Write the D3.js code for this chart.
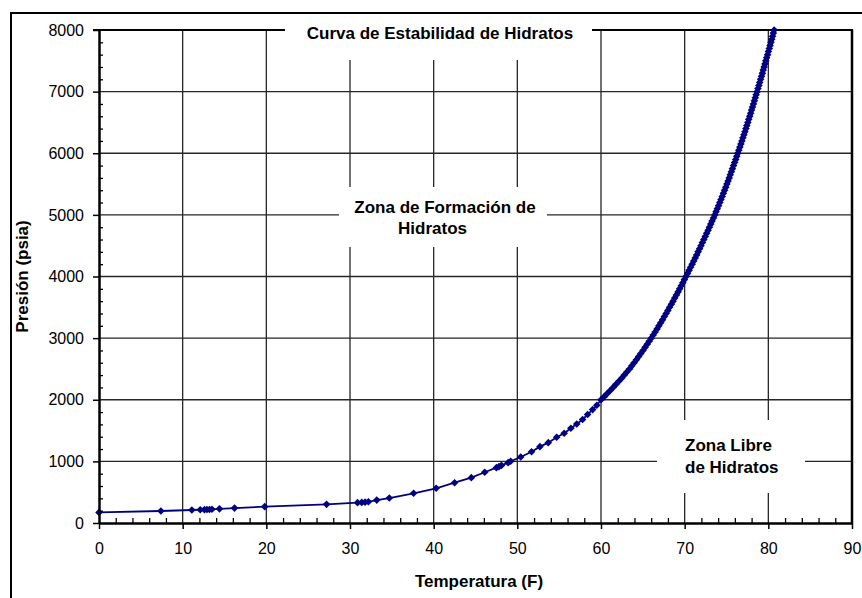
<!DOCTYPE html>
<html>
<head>
<meta charset="utf-8">
<script src="https://cdn.jsdelivr.net/npm/d3@7"></script>
<style>
  body { margin: 0; background: #fff; }
  svg { display: block; }
  text { font-family: "Liberation Sans", Arial, sans-serif; fill: #000; }
</style>
</head>
<body>
<svg id="chart" width="862" height="598"></svg>
<script>
// Hydrate stability curve: temperature (F) vs pressure (psia)
const temperatures = [
  0, 7.4, 11.1, 12.1, 12.6, 12.9, 13.2, 13.5, 14.4, 16.2, 19.8, 27.2, 30.9, 31.4, 31.8, 32.2,
  33.2, 34.7, 37.6, 40.3, 42.5, 44.5, 46.1, 47.5, 47.8, 48.1, 48.9, 49.2, 50.4, 51.7, 52.7,
  53.7, 54.7, 55.6, 56.4, 57.1, 57.8, 58.4, 59.0, 59.5, 60.0,
  60.38, 60.74, 61.10, 61.45, 61.79, 62.13, 62.46, 62.78, 63.09, 63.40,
  63.68, 63.96, 64.23, 64.50, 64.76, 65.02, 65.27, 65.52, 65.76, 66.00,
  66.24, 66.47, 66.70, 66.92, 67.14, 67.36, 67.57, 67.79, 67.99, 68.20,
  68.41, 68.61, 68.81, 69.01, 69.21, 69.40, 69.59, 69.78, 69.97, 70.15,
  70.34, 70.53, 70.71, 70.90, 71.08, 71.26, 71.43, 71.61, 71.78, 71.95,
  72.12, 72.29, 72.46, 72.63, 72.80, 72.96, 73.12, 73.28, 73.44, 73.60,
  73.75, 73.90, 74.05, 74.20, 74.34, 74.49, 74.63, 74.77, 74.91, 75.05,
  75.19, 75.32, 75.45, 75.58, 75.71, 75.84, 75.97, 76.10, 76.23, 76.35,
  76.47, 76.60, 76.72, 76.84, 76.96, 77.08, 77.20, 77.32, 77.43, 77.55,
  77.66, 77.78, 77.89, 78.00, 78.11, 78.22, 78.33, 78.44, 78.54, 78.65,
  78.76, 78.87, 78.97, 79.08, 79.19, 79.29, 79.39, 79.50, 79.60, 79.70,
  79.80, 79.91, 80.01, 80.11, 80.21, 80.31, 80.41, 80.51, 80.60, 80.70
];
const pressures = [
  172, 195, 211, 215, 217, 219, 220, 222, 230, 242, 265, 303, 330, 334, 338, 344,
  372, 405, 482, 563, 654, 736, 823, 898, 914, 935, 979, 1001, 1071, 1157, 1239,
  1304, 1391, 1456, 1537, 1607, 1680, 1760, 1840, 1910, 2000,
  2050, 2100, 2150, 2200, 2250, 2300, 2350, 2400, 2450, 2500,
  2550, 2600, 2650, 2700, 2750, 2800, 2850, 2900, 2950, 3000,
  3050, 3100, 3150, 3200, 3250, 3300, 3350, 3400, 3450, 3500,
  3550, 3600, 3650, 3700, 3750, 3800, 3850, 3900, 3950, 4000,
  4050, 4100, 4150, 4200, 4250, 4300, 4350, 4400, 4450, 4500,
  4550, 4600, 4650, 4700, 4750, 4800, 4850, 4900, 4950, 5000,
  5050, 5100, 5150, 5200, 5250, 5300, 5350, 5400, 5450, 5500,
  5550, 5600, 5650, 5700, 5750, 5800, 5850, 5900, 5950, 6000,
  6050, 6100, 6150, 6200, 6250, 6300, 6350, 6400, 6450, 6500,
  6550, 6600, 6650, 6700, 6750, 6800, 6850, 6900, 6950, 7000,
  7050, 7100, 7150, 7200, 7250, 7300, 7350, 7400, 7450, 7500,
  7550, 7600, 7650, 7700, 7750, 7800, 7850, 7900, 7950, 8000
];
const xTicks = [0, 10, 20, 30, 40, 50, 60, 70, 80, 90];
const yTicks = [0, 1000, 2000, 3000, 4000, 5000, 6000, 7000, 8000];
const xMinorTicks = d3.range(0, 91, 2).filter(v => v % 10 !== 0);
const yMinorTicks = d3.range(0, 8001, 200).filter(v => v % 1000 !== 0);
const chartTitle = "Curva de Estabilidad de Hidratos";
const xTitle = "Temperatura (F)";
const yTitle = "Presión (psia)";
const formationZone = ["Zona de Formación de", "Hidratos"];
const freeZone = ["Zona Libre", "de Hidratos"];

const W = 862, H = 598;
const margin = { top: 30, right: 10, bottom: 75, left: 99 };
const x = d3.scaleLinear().domain([0, 90]).range([margin.left, W - margin.right]);
const y = d3.scaleLinear().domain([0, 8000]).range([H - margin.bottom, margin.top]);

const svg = d3.select("#chart");
const points = temperatures.map((t, i) => ({ t, p: pressures[i] }));

// outer chart frame (runs past the right and bottom edges)
svg.append("rect")
  .attr("x", 11).attr("y", 13)
  .attr("width", 900).attr("height", 700)
  .attr("fill", "none").attr("stroke", "#000").attr("stroke-width", 2);

// grid
const grid = svg.append("g").attr("stroke", "#262626").attr("stroke-width", 1.3);
grid.selectAll("line.v").data(xTicks.filter(v => v > 0 && v < 90)).join("line")
  .attr("x1", d => x(d)).attr("x2", d => x(d))
  .attr("y1", y(8000)).attr("y2", y(0));
grid.selectAll("line.h").data(yTicks.filter(v => v > 0 && v < 8000)).join("line")
  .attr("x1", x(0)).attr("x2", x(90))
  .attr("y1", d => y(d)).attr("y2", d => y(d));

// plot frame: top and right
svg.append("line")
  .attr("x1", x(0) - 6).attr("x2", x(90) + 1)
  .attr("y1", y(8000)).attr("y2", y(8000))
  .attr("stroke", "#000").attr("stroke-width", 2);
svg.append("line")
  .attr("x1", x(90)).attr("x2", x(90))
  .attr("y1", y(8000)).attr("y2", y(0))
  .attr("stroke", "#000").attr("stroke-width", 2.5);

// white label boxes laid over the grid
const boxes = [
  { x0: 285, x1: 592, y0: 17, y1: 60 },
  { x0: 339, x1: 547, y0: 187, y1: 247 },
  { x0: 657, x1: 805, y0: 420, y1: 493 }
];
svg.append("g").selectAll("rect").data(boxes).join("rect")
  .attr("x", d => d.x0).attr("y", d => d.y0)
  .attr("width", d => d.x1 - d.x0).attr("height", d => d.y1 - d.y0)
  .attr("fill", "#fff");

const labelFont = { size: "17px", weight: "bold" };
svg.append("text")
  .attr("x", 440).attr("y", 39)
  .attr("text-anchor", "middle")
  .attr("font-size", labelFont.size).attr("font-weight", labelFont.weight)
  .text(chartTitle);

svg.append("text")
  .attr("x", 445).attr("y", 213)
  .attr("text-anchor", "middle")
  .attr("font-size", labelFont.size).attr("font-weight", labelFont.weight)
  .text(formationZone[0]);
svg.append("text")
  .attr("x", 432.5).attr("y", 234)
  .attr("text-anchor", "middle")
  .attr("font-size", labelFont.size).attr("font-weight", labelFont.weight)
  .text(formationZone[1]);

svg.append("g").selectAll("text").data(freeZone).join("text")
  .attr("x", 685).attr("y", (d, i) => 451 + i * 22)
  .attr("font-size", labelFont.size).attr("font-weight", labelFont.weight)
  .text(d => d);

// curve with diamond markers
const navy = "#000080";
svg.append("path")
  .datum(points)
  .attr("fill", "none").attr("stroke", navy).attr("stroke-width", 1.8)
  .attr("d", d3.line().x(d => x(d.t)).y(d => y(d.p)));

const r = 3.8;
svg.append("g").selectAll("path").data(points).join("path")
  .attr("transform", d => `translate(${x(d.t)},${y(d.p)})`)
  .attr("d", `M0,${-r}L${r},0L0,${r}L${-r},0Z`)
  .attr("fill", navy);

// x axis
const xAxis = svg.append("g")
  .attr("transform", `translate(0,${y(0)})`)
  .call(d3.axisBottom(x).tickValues(xTicks).tickFormat(d3.format("d"))
    .tickSize(6).tickPadding(14).tickSizeOuter(0));
xAxis.select(".domain").attr("stroke", "#000").attr("stroke-width", 2.5);
xAxis.selectAll(".tick line").attr("stroke", "#000").attr("stroke-width", 1.5);
xAxis.selectAll("text").attr("font-size", "16px").attr("font-family", "Liberation Sans, Arial, sans-serif").attr("fill", "#000");

svg.append("g")
  .attr("transform", `translate(0,${y(0)})`)
  .call(d3.axisBottom(x).tickValues(xMinorTicks).tickSize(-5).tickFormat(""))
  .call(g => g.select(".domain").remove())
  .selectAll(".tick line").attr("stroke", "#000").attr("stroke-width", 1.3);

// y axis
const yAxis = svg.append("g")
  .attr("transform", `translate(${x(0)},0)`)
  .call(d3.axisLeft(y).tickValues(yTicks).tickFormat(d3.format("d"))
    .tickSize(6).tickPadding(9).tickSizeOuter(0));
yAxis.select(".domain").attr("stroke", "#000").attr("stroke-width", 2.5);
yAxis.selectAll(".tick line").attr("stroke", "#000").attr("stroke-width", 1.5);
yAxis.selectAll("text").attr("font-size", "16px").attr("font-family", "Liberation Sans, Arial, sans-serif").attr("fill", "#000");

svg.append("g")
  .attr("transform", `translate(${x(0)},0)`)
  .call(d3.axisLeft(y).tickValues(yMinorTicks).tickSize(-4).tickFormat(""))
  .call(g => g.select(".domain").remove())
  .selectAll(".tick line").attr("stroke", "#000").attr("stroke-width", 1.3);

// axis titles
svg.append("text")
  .attr("x", 479).attr("y", 587)
  .attr("text-anchor", "middle")
  .attr("font-size", labelFont.size).attr("font-weight", labelFont.weight)
  .text(xTitle);

svg.append("text")
  .attr("transform", `translate(28,${(y(0) + y(8000)) / 2})rotate(-90)`)
  .attr("text-anchor", "middle")
  .attr("font-size", labelFont.size).attr("font-weight", labelFont.weight)
  .text(yTitle);
</script>
</body>
</html>
